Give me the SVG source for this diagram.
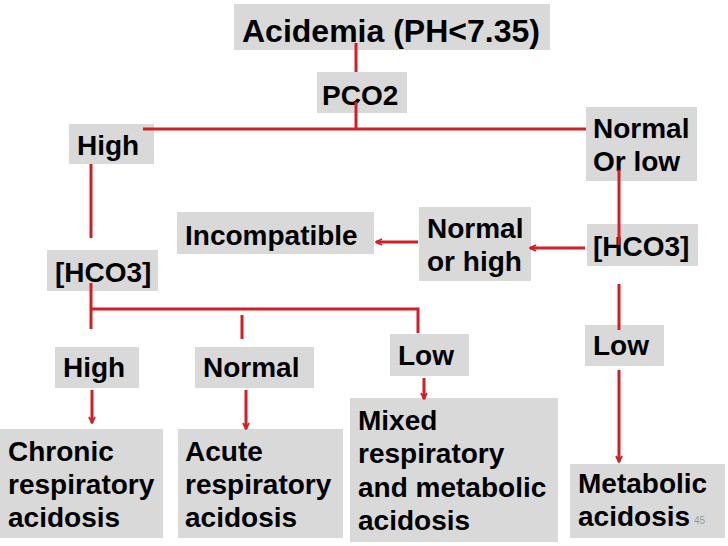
<svg xmlns="http://www.w3.org/2000/svg" width="728" height="546" viewBox="0 0 728 546">
<style>
.box{fill:#d9d9d9}
.t{font-family:"Liberation Sans",Arial,sans-serif;font-weight:bold;font-size:28px;fill:#000}
.ttl{font-size:32px}
.c{stroke:#d01f26;stroke-width:3;fill:none}
.pn{font-family:"Liberation Sans",Arial,sans-serif;font-size:10px;fill:#999}
</style>
<defs>
<marker id="ah" viewBox="0 0 8 8" markerWidth="8" markerHeight="8" refX="7" refY="4" orient="auto" markerUnits="userSpaceOnUse">
<path d="M1,1 L7,4 L1,7" fill="none" stroke="#d01f26" stroke-width="1.8"/>
</marker>
</defs>
<rect width="728" height="546" fill="#fff"/>
<g id="acidemia"><rect class="box" x="234" y="4" width="316" height="46"/><text class="t ttl" x="242" y="42">Acidemia (PH&lt;7.35)</text></g>
<g id="pco2"><rect class="box" x="317" y="72" width="90" height="41"/><text class="t" x="322" y="105">PCO2</text></g>
<g id="high1"><rect class="box" x="69" y="124" width="85" height="40"/><text class="t" x="77" y="155">High</text></g>
<g id="normal-or-low"><rect class="box" x="586" y="107" width="111" height="74"/><text class="t" x="593" y="138">Normal</text><text class="t" x="593" y="171">Or low</text></g>
<g id="incompatible"><rect class="box" x="177" y="212" width="197" height="42"/><text class="t" x="185" y="245">Incompatible</text></g>
<g id="normal-or-high"><rect class="box" x="419" y="207" width="112" height="74"/><text class="t" x="427" y="238">Normal</text><text class="t" x="427" y="271">or high</text></g>
<g id="hco3-right"><rect class="box" x="587" y="224" width="111" height="42"/><text class="t" x="593" y="256">[HCO3]</text></g>
<g id="hco3-left"><rect class="box" x="47" y="250" width="111" height="41"/><text class="t" x="55" y="282">[HCO3]</text></g>
<g id="high2"><rect class="box" x="55" y="347" width="84" height="41"/><text class="t" x="63" y="377">High</text></g>
<g id="normal2"><rect class="box" x="195" y="347" width="119" height="41"/><text class="t" x="203" y="377">Normal</text></g>
<g id="low-mid"><rect class="box" x="390" y="334" width="79" height="42"/><text class="t" x="398" y="365">Low</text></g>
<g id="low-right"><rect class="box" x="585" y="325" width="79" height="41"/><text class="t" x="593" y="355">Low</text></g>
<g id="chronic"><rect class="box" x="0" y="429" width="163" height="109"/><text class="t" x="8" y="461">Chronic</text><text class="t" x="8" y="494">respiratory</text><text class="t" x="8" y="527">acidosis</text></g>
<g id="acute"><rect class="box" x="178" y="429" width="165" height="109"/><text class="t" x="185" y="461">Acute</text><text class="t" x="185" y="494">respiratory</text><text class="t" x="185" y="527">acidosis</text></g>
<g id="mixed"><rect class="box" x="350" y="398" width="208" height="144"/><text class="t" x="358" y="430">Mixed</text><text class="t" x="358" y="463">respiratory</text><text class="t" x="358" y="497">and metabolic</text><text class="t" x="358" y="530">acidosis</text></g>
<g id="metabolic"><rect class="box" x="570" y="464" width="155" height="74"/><text class="t" x="578" y="493">Metabolic</text><text class="t" x="578" y="526">acidosis</text><text class="pn" x="694" y="524">45</text></g>
<g id="connectors">
<line class="c" x1="356" y1="43" x2="356" y2="72"/>
<line class="c" x1="356" y1="102" x2="356" y2="129"/>
<line class="c" x1="143" y1="129" x2="586" y2="129"/>
<line class="c" x1="91" y1="164" x2="91" y2="238"/>
<line class="c" x1="619" y1="170" x2="619" y2="245"/>
<line class="c" x1="585" y1="248" x2="530" y2="248" marker-end="url(#ah)"/>
<line class="c" x1="418" y1="242" x2="376" y2="242" marker-end="url(#ah)"/>
<line class="c" x1="619" y1="284" x2="619" y2="330"/>
<line class="c" x1="619" y1="370" x2="619" y2="462" marker-end="url(#ah)"/>
<polyline class="c" points="91,283 91,329"/>
<polyline class="c" points="91,309 418,309 418,333"/>
<line class="c" x1="242" y1="315" x2="242" y2="339"/>
<line class="c" x1="92" y1="390" x2="92" y2="423" marker-end="url(#ah)"/>
<line class="c" x1="246" y1="390" x2="246" y2="429" marker-end="url(#ah)"/>
<line class="c" x1="424" y1="378" x2="424" y2="399" marker-end="url(#ah)"/>
</g>
</svg>
